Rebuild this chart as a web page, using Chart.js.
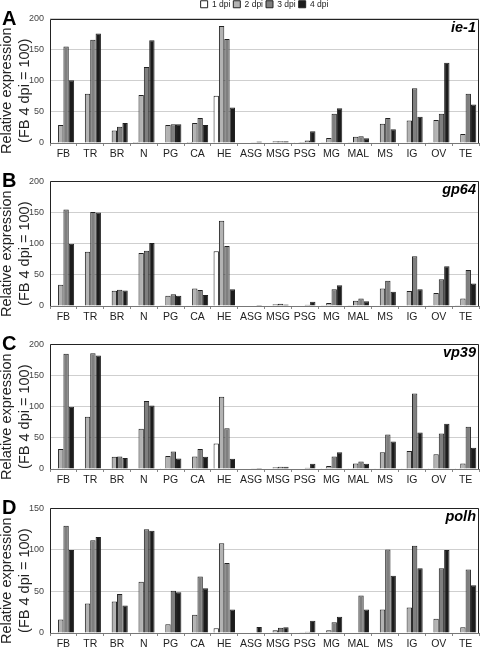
<!DOCTYPE html>
<html><head><meta charset="utf-8">
<script src="https://cdn.jsdelivr.net/npm/chart.js@4.4.1/dist/chart.umd.min.js"></script>
<style>
html,body{margin:0;padding:0;background:#fff;width:480px;height:648px;overflow:hidden;position:relative;}
canvas{position:absolute;left:0;}
</style></head><body>
<canvas id="cA" width="480" height="168" style="top:-3px"></canvas>
<canvas id="cB" width="480" height="158" style="top:170px"></canvas>
<canvas id="cC" width="480" height="158" style="top:333px"></canvas>
<canvas id="cD" width="480" height="158" style="top:497px"></canvas>
<script>
const categories = ['FB','TR','BR','N','PG','CA','HE','ASG','MSG','PSG','MG','MAL','MS','IG','OV','TE'];
const seriesNames = ['1 dpi','2 dpi','3 dpi','4 dpi'];

// Panel A: ie-1
const ie1_d1 = [0.3,1,1,1.5,1,1.5,76,0,0,0.3,0.5,0.5,1,1,0.5,1];
const ie1_d2 = [29,79,20,77,29,32,188,0,3,1.5,8,10,31,36,37,14.5];
const ie1_d3 = [155,166,26,122,30,40,167,0.5,3,4,47,11,40,88,47,79];
const ie1_d4 = [101,176,32,165,30,29,57,2.5,3,19,56,7.5,22,42,129,62];

// Panel B: gp64
const gp64_d1 = [0.5,1,1,1,0.5,1,88,0,0,0,0.5,0.5,1,1,0.5,0.5];
const gp64_d2 = [34,87,24.5,85,16.5,28,137,0,3,1,5,8.5,28,24,21,12];
const gp64_d3 = [155,151,26,88.5,18.7,25.6,96.5,1,3.5,2,27,12,40.5,80,43,57.6];
const gp64_d4 = [100,150,25,101,16.5,17.6,27,1.5,2.5,7,33.5,7.5,23,27,64,36];

// Panel C: vp39
const vp39_d1 = [0.3,0.3,1,1,0.3,1,41,0,0,0,0.3,0.3,0.3,0.3,0.3,0.3];
const vp39_d2 = [32,84,19.7,64.5,21,20,116,0,3,1,5,9,26.7,29,23.5,9];
const vp39_d3 = [185,185.6,20,109,28,32,65.6,0.5,3.7,2,20,12,55.5,121,57,67.7];
const vp39_d4 = [100,182,17.6,102,17,19.7,16.5,1.5,3.7,8.5,26.7,8.5,44,58.7,72.5,34];

// Panel D: polh
const polh_d1 = [0.3,0,0.5,0,0.5,0.5,5.6,0,0,0,0,0,0,0,0,0];
const polh_d2 = [16.4,35.6,38,61.6,10.4,22,108,0,3.2,0.8,3.2,0,28.4,30.8,17.2,6.8];
const polh_d3 = [129,111.6,47,125,51,68,84.4,0,6.4,1.6,12.8,45,100.4,105,78,76.4];
const polh_d4 = [100,115.6,33,123,49,54,28.4,7.2,6.8,14.8,19.6,28.4,69,78,100,57.6];

const yTicksMax = [200,200,200,150];
const panelLetters = ['A','B','C','D'];
const geneNames = ['ie-1','gp64','vp39','polh'];
const yTitleLines = ['Relative expression', '(FB 4 dpi = 100)'];

const fills = ['#ffffff','#b3b3b3','#7f7f7f','#1c1c1c'];
const FONT = "'Liberation Sans', Arial, sans-serif";

const textPlugin = {
  id: 'panelText',
  afterDraw(chart, args, opts) {
    const ctx = chart.ctx, a = chart.chartArea;
    ctx.save();
    // frame
    ctx.strokeStyle = '#222'; ctx.lineWidth = 1;
    ctx.beginPath();
    ctx.moveTo(Math.round(a.left)+0.5, Math.round(a.bottom));
    ctx.lineTo(Math.round(a.left)+0.5, Math.round(a.top)+0.5);
    ctx.lineTo(Math.round(a.right)-0.5, Math.round(a.top)+0.5);
    ctx.lineTo(Math.round(a.right)-0.5, Math.round(a.bottom));
    ctx.stroke();
    ctx.fillStyle = '#000';
    ctx.font = "bold 20px " + FONT;
    ctx.textAlign = 'left'; ctx.textBaseline = 'alphabetic';
    ctx.fillText(opts.letter, 2, a.top + 6);
    ctx.font = "italic bold 14.5px " + FONT;
    ctx.textAlign = 'right';
    ctx.fillText(opts.gene, a.right - 3, a.top + 13);
    // y title (two rotated lines)
    const cy = (a.top + a.bottom) / 2 + 10;
    ctx.fillStyle = '#222';
    ctx.font = "14.5px " + FONT;
    ctx.textAlign = 'center'; ctx.textBaseline = 'middle';
    [6.5, 24.5].forEach((x, i) => {
      ctx.save();
      ctx.translate(x, cy);
      ctx.rotate(-Math.PI / 2);
      ctx.fillText(yTitleLines[i], 0, 0);
      ctx.restore();
    });
    ctx.restore();
  }
};

function makeChart(id, d, idx, showLegend) {
  return new Chart(document.getElementById(id), {
    type: 'bar',
    data: {
      labels: categories,
      datasets: d.map((vals, i) => ({
        label: seriesNames[i],
        data: vals,
        backgroundColor: fills[i],
        borderColor: '#222',
        borderWidth: 1,
        barPercentage: 1.0,
        categoryPercentage: 0.8
      }))
    },
    options: {
      responsive: false,
      animation: false,
      devicePixelRatio: 1,
      layout: { padding: { top: showLegend ? 0 : 8, right: 1, left: 0, bottom: 0 } },
      plugins: {
        legend: {
          display: showLegend,
          fullSize: false,
          labels: {
            boxWidth: 7, boxHeight: 7, padding: 3,
            color: '#222',
            font: { family: FONT, size: 8.5 }
          }
        },
        tooltip: { enabled: false },
        panelText: { letter: panelLetters[idx], gene: geneNames[idx] }
      },
      scales: {
        x: {
          grid: { display: true, drawOnChartArea: false, drawTicks: true, tickLength: 3, color: '#888', offset: true },
          border: { display: true, color: '#777' },
          ticks: { color: '#222', font: { family: FONT, size: 10.5 }, padding: 2, maxRotation: 0, autoSkip: false },
          afterFit(s) { s.height = 22; }
        },
        y: {
          min: 0, max: yTicksMax[idx],
          ticks: { stepSize: 50, color: '#444', font: { family: FONT, size: 9 }, padding: 6 },
          grid: { color: '#cfcfcf', drawTicks: false },
          border: { display: false },
          title: { display: false },
          afterFit(s) { s.width = 50; }
        }
      }
    },
    plugins: [textPlugin]
  });
}

makeChart('cA', [ie1_d1, ie1_d2, ie1_d3, ie1_d4], 0, true);
makeChart('cB', [gp64_d1, gp64_d2, gp64_d3, gp64_d4], 1, false);
makeChart('cC', [vp39_d1, vp39_d2, vp39_d3, vp39_d4], 2, false);
makeChart('cD', [polh_d1, polh_d2, polh_d3, polh_d4], 3, false);
</script>
</body></html>
